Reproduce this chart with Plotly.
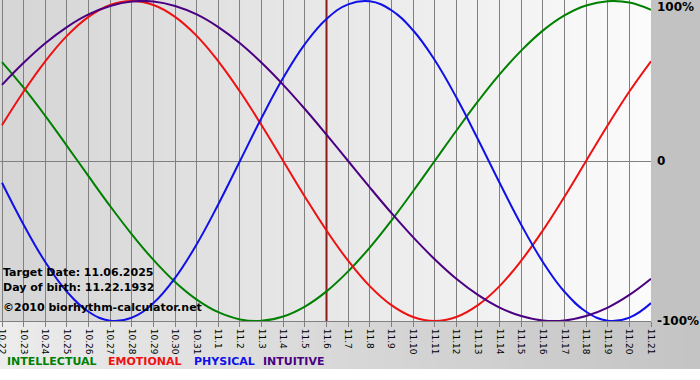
import plotly.graph_objects as go

# ---- data ----
dates = ["10.22", "10.23", "10.24", "10.25", "10.26", "10.27", "10.28", "10.29", "10.30", "10.31",
         "11.1", "11.2", "11.3", "11.4", "11.5", "11.6", "11.7", "11.8", "11.9", "11.10",
         "11.11", "11.12", "11.13", "11.14", "11.15", "11.16", "11.17", "11.18", "11.19", "11.20", "11.21"]

intellectual = [0.618, 0.458, 0.282, 0.095, -0.095, -0.282, -0.458, -0.618, -0.756, -0.866,
                -0.945, -0.990, -0.999, -0.972, -0.910, -0.815, -0.690, -0.541, -0.372, -0.189,
                0.000, 0.189, 0.372, 0.541, 0.690, 0.815, 0.910, 0.972, 0.999, 0.990, 0.945]

emotional = [0.223, 0.434, 0.623, 0.782, 0.901, 0.975, 1.000, 0.975, 0.901, 0.782,
             0.623, 0.434, 0.223, 0.000, -0.223, -0.434, -0.623, -0.782, -0.901, -0.975,
             -1.000, -0.975, -0.901, -0.782, -0.623, -0.434, -0.223, 0.000, 0.223, 0.434, 0.623]

physical = [-0.136, -0.398, -0.631, -0.817, -0.942, -0.998, -0.979, -0.888, -0.731, -0.520,
            -0.270, 0.000, 0.270, 0.520, 0.731, 0.888, 0.979, 0.998, 0.942, 0.817,
            0.631, 0.398, 0.136, -0.136, -0.398, -0.631, -0.817, -0.942, -0.998, -0.979, -0.888]

intuitive = [0.476, 0.614, 0.736, 0.837, 0.916, 0.969, 0.997, 0.997, 0.969, 0.916,
             0.837, 0.736, 0.614, 0.476, 0.325, 0.165, 0.000, -0.165, -0.325, -0.476,
             -0.614, -0.736, -0.837, -0.916, -0.969, -0.997, -0.997, -0.969, -0.916, -0.837, -0.736]

target_index = 15
series_names = ["INTELLECTUAL", "EMOTIONAL", "PHYSICAL", "INTUITIVE"]
y_labels = ["100%", "0", "-100%"]
y_label_vals = [1, 0, -1]
info_lines = ["Target Date: 11.06.2025", "Day of birth: 11.22.1932", "\u00a92010 biorhythm-calculator.net"]

# ---- styles ----
colors = ["#008000", "#ee1111", "#1010e8", "#4b0082"]
W, H = 700, 380
ML, MR, MT, MB = 0, 49, 0, 59
PW, PH = W - ML - MR, H - MT - MB
FONT = "DejaVu Sans"
YTOP = 1 + 1 / 160

def px2paper_x(px):
    return (px - ML) / PW

def px2paper_y(py):
    return 1 - (py - MT) / PH

x = list(range(len(dates)))
fig = go.Figure()
# target date marker (drawn first, beneath the curves)
fig.add_trace(go.Scatter(x=[target_index, target_index], y=[-1, YTOP], mode="lines",
                         line=dict(color="#8a1c1c", width=2), hoverinfo="skip"))
for vals, name, col in zip([intellectual, emotional, physical, intuitive], series_names, colors):
    fig.add_trace(go.Scatter(x=x, y=vals, mode="lines", name=name,
                             line=dict(color=col, width=2, shape="spline", smoothing=1.2),
                             hoverinfo="skip"))

shapes = []
# plot background gradient
n = 40
for k in range(n):
    c = int(214 + (251 - 214) * k / (n - 1))
    shapes.append(dict(type="rect", xref="paper", yref="paper", x0=k / n, x1=(k + 1) / n + 0.002,
                       y0=0, y1=1, fillcolor=f"rgb({c},{c},{c})", line=dict(width=0), layer="below"))
# right margin
shapes.append(dict(type="rect", xref="paper", yref="paper", x0=1, x1=px2paper_x(W) + 0.01,
                   y0=0, y1=1, fillcolor="#c2c2c2", line=dict(width=0), layer="below"))
# bottom strip gradient
yb0 = px2paper_y(369)
for k in range(n):
    c = int(236 + (196 - 236) * k / (n - 1))
    xs0 = px2paper_x(W * k / n)
    xs1 = px2paper_x(W * (k + 1) / n) + 0.002
    shapes.append(dict(type="rect", xref="paper", yref="paper", x0=xs0, x1=xs1,
                       y0=yb0, y1=0, fillcolor=f"rgb({c},{c},{c})", line=dict(width=0), layer="below"))

annotations = []
for lab, v in zip(y_labels, y_label_vals):
    shift = -6 if v == 1 else 0
    annotations.append(dict(text=f"<b>{lab}</b>", xref="paper", yref="y", x=1, y=v,
                            xanchor="left", yanchor="middle", xshift=4, yshift=shift,
                            showarrow=False, font=dict(family=FONT, size=12, color="#000000")))
for txt, py in zip(info_lines, [272, 287, 307]):
    annotations.append(dict(text=f"<b>{txt}</b>", xref="paper", yref="paper", x=px2paper_x(1),
                            y=px2paper_y(py), xanchor="left", yanchor="middle", showarrow=False,
                            font=dict(family=FONT, size=11, color="#000000")))
for name, col, px in zip(series_names, colors, [5, 106, 192, 261]):
    annotations.append(dict(text=f"<b>{name}</b>", xref="paper", yref="paper", x=px2paper_x(px),
                            y=px2paper_y(361), xanchor="left", yanchor="middle", showarrow=False,
                            font=dict(family=FONT, size=11, color=col)))

xr0 = -2 / ((PW - 2) / 30)
fig.update_layout(
    width=W, height=H, margin=dict(l=ML, r=MR, t=MT, b=MB, pad=0),
    paper_bgcolor="#ffffff", plot_bgcolor="rgba(0,0,0,0)",
    showlegend=False, shapes=shapes, annotations=annotations,
    xaxis=dict(range=[xr0, 30], tickvals=x, ticktext=dates, tickangle=90,
               ticklabeloverflow="allow",
               showgrid=True, gridcolor="#808080", gridwidth=1, zeroline=False,
               ticks="outside", ticklen=5, tickcolor="#808080",
               showline=True, linecolor="#808080", linewidth=1, mirror=True,
               tickfont=dict(family=FONT, size=9, color="#000000"), automargin=False, fixedrange=True),
    yaxis=dict(range=[-1, YTOP], tickvals=[-1, 0, 1], showticklabels=False,
               showgrid=True, gridcolor="#808080", gridwidth=1, zeroline=False,
               showline=False, automargin=False, fixedrange=True),
)

fig.write_html("out.html", config={"displayModeBar": False, "staticPlot": True})
with open("out.html", "r", encoding="utf-8") as f:
    html = f.read()
html = html.replace("<head>", "<head><style>html,body{margin:0;padding:0;}</style>", 1)
with open("out.html", "w", encoding="utf-8") as f:
    f.write(html)
